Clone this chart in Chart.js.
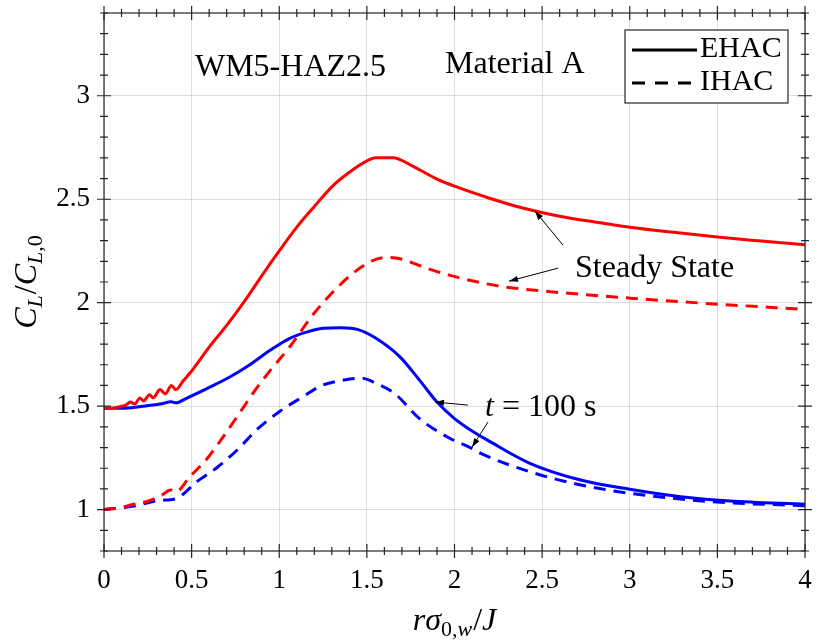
<!DOCTYPE html>
<html>
<head>
<meta charset="utf-8">
<script src="https://cdn.jsdelivr.net/npm/chart.js@4"></script>
<style>
  html, body { margin: 0; padding: 0; background: #fff; }
</style>
</head>
<body>
<canvas id="chart" width="816" height="644"></canvas>
<script>
// EHAC, steady state (red solid)
const xEhacSteady = [0, 0.05, 0.10, 0.125, 0.15, 0.175, 0.205, 0.225, 0.26, 0.28, 0.32, 0.35, 0.385, 0.41, 0.45, 0.5, 0.6, 0.7, 0.8, 0.9, 1.0, 1.1, 1.2, 1.3, 1.4, 1.5, 1.55, 1.65, 1.75, 1.9, 2.0, 2.2, 2.4, 2.6, 2.8, 3.0, 3.25, 3.5, 3.75, 4.0];
const yEhacSteady = [1.49, 1.49, 1.50, 1.505, 1.52, 1.51, 1.54, 1.525, 1.555, 1.54, 1.58, 1.56, 1.60, 1.58, 1.62, 1.67, 1.785, 1.89, 2.005, 2.13, 2.25, 2.365, 2.465, 2.56, 2.63, 2.685, 2.70, 2.70, 2.665, 2.597, 2.563, 2.505, 2.455, 2.418, 2.39, 2.365, 2.34, 2.317, 2.298, 2.28];

// IHAC, steady state (red dashed)
const xIhacSteady = [0, 0.1, 0.15, 0.26, 0.33, 0.38, 0.41, 0.49, 0.59, 0.68, 0.76, 0.87, 0.95, 1.06, 1.2, 1.29, 1.42, 1.54, 1.63, 1.7, 1.82, 1.97, 2.16, 2.3, 2.55, 3.0, 3.5, 4.0];
const yIhacSteady = [1.0, 1.01, 1.022, 1.043, 1.07, 1.095, 1.086, 1.159, 1.248, 1.352, 1.45, 1.586, 1.674, 1.787, 1.95, 2.037, 2.142, 2.206, 2.219, 2.21, 2.173, 2.133, 2.095, 2.075, 2.053, 2.022, 1.993, 1.968];

// EHAC, t = 100 s (blue solid)
const xEhac100 = [0, 0.1, 0.2, 0.32, 0.385, 0.41, 0.47, 0.59, 0.72, 0.83, 0.95, 1.06, 1.16, 1.25, 1.35, 1.45, 1.55, 1.69, 1.8, 1.9, 2.0, 2.1, 2.2, 2.43, 2.72, 3.0, 3.29, 3.57, 4.0];
const yEhac100 = [1.49, 1.49, 1.497, 1.51, 1.521, 1.516, 1.538, 1.586, 1.642, 1.699, 1.771, 1.828, 1.859, 1.876, 1.879, 1.87, 1.829, 1.737, 1.626, 1.52, 1.44, 1.38, 1.33, 1.224, 1.143, 1.098, 1.062, 1.042, 1.026];

// IHAC, t = 100 s (blue dashed)
const xIhac100 = [0, 0.17, 0.3, 0.35, 0.415, 0.53, 0.64, 0.76, 0.87, 1.0, 1.12, 1.25, 1.37, 1.47, 1.56, 1.66, 1.8, 1.97, 2.09, 2.15, 2.43, 2.72, 3.0, 3.29, 3.57, 4.0];
const yIhac100 = [1.0, 1.017, 1.043, 1.046, 1.054, 1.135, 1.2, 1.288, 1.385, 1.473, 1.538, 1.602, 1.626, 1.635, 1.607, 1.56, 1.44, 1.346, 1.30, 1.272, 1.183, 1.119, 1.079, 1.051, 1.033, 1.019];

const xTicks = [0, 0.5, 1, 1.5, 2, 2.5, 3, 3.5, 4];
const yTicks = [1, 1.5, 2, 2.5, 3];
const legendLabels = ["EHAC", "IHAC"];

const FONT = "'Liberation Serif', 'Times New Roman', serif";
const RED = "#ff0000", BLUE = "#0000ff";
const DASH = [12, 8];

function pts(xs, ys) {
    return xs.map((x, i) => ({x: x, y: ys[i]}));
}

function lineSet(xs, ys, color, dashed) {
    return {
        data: pts(xs, ys),
        borderColor: color,
        borderWidth: 3,
        borderDash: dashed ? DASH : [],
        pointRadius: 0,
        fill: false,
        cubicInterpolationMode: "monotone"
    };
}

// draw a row of text pieces (for italic / subscript math)
function drawRuns(ctx, runs, x, y, align) {
    let total = 0;
    runs.forEach(r => {
        ctx.font = (r.it ? "italic " : "") + r.size + "px " + FONT;
        r.w = ctx.measureText(r.t).width;
        total += r.w + (r.gap || 0);
    });
    let cx = align === "center" ? x - total / 2 : x;
    ctx.textBaseline = "alphabetic";
    ctx.textAlign = "left";
    runs.forEach(r => {
        ctx.font = (r.it ? "italic " : "") + r.size + "px " + FONT;
        ctx.fillText(r.t, cx, y + (r.dy || 0));
        cx += r.w + (r.gap || 0);
    });
}

function arrow(ctx, x1, y1, x2, y2) {
    ctx.beginPath();
    ctx.moveTo(x1, y1);
    ctx.lineTo(x2, y2);
    ctx.stroke();
    const a = Math.atan2(y2 - y1, x2 - x1);
    const len = 9, hw = 3;
    ctx.beginPath();
    ctx.moveTo(x2, y2);
    ctx.lineTo(x2 - len * Math.cos(a) + hw * Math.sin(a), y2 - len * Math.sin(a) - hw * Math.cos(a));
    ctx.lineTo(x2 - len * Math.cos(a) - hw * Math.sin(a), y2 - len * Math.sin(a) + hw * Math.cos(a));
    ctx.closePath();
    ctx.fill();
}

const decorPlugin = {
    id: "decor",
    afterDraw(chart) {
        const ctx = chart.ctx;
        const xs = chart.scales.x, ys = chart.scales.y;
        const a = chart.chartArea;
        const px = v => xs.getPixelForValue(v);
        const py = v => ys.getPixelForValue(v);
        ctx.save();

        // axes box with ticks crossing the edges
        ctx.strokeStyle = "#262626";
        ctx.lineWidth = 1.2;
        ctx.strokeRect(a.left, a.top, a.right - a.left, a.bottom - a.top);
        ctx.beginPath();
        for (let i = 0; i <= 40; i++) {
            const v = i / 10, p = px(v);
            const L = (i % 5 === 0) ? 7 : 4;
            ctx.moveTo(p, a.bottom - L); ctx.lineTo(p, a.bottom + L);
            ctx.moveTo(p, a.top - L); ctx.lineTo(p, a.top + L);
        }
        for (let i = 8; i <= 34; i++) {
            const v = i / 10, p = py(v);
            const L = (i % 5 === 0) ? 7 : 4;
            ctx.moveTo(a.left - L, p); ctx.lineTo(a.left + L, p);
            ctx.moveTo(a.right - L, p); ctx.lineTo(a.right + L, p);
        }
        ctx.stroke();

        ctx.fillStyle = "#000";
        ctx.strokeStyle = "#000";

        // axis titles
        drawRuns(ctx, [
            {t: "r", it: true, size: 32},
            {t: "σ", it: true, size: 32},
            {t: "0,", size: 22, dy: 6},
            {t: "w", it: true, size: 22, dy: 6, gap: 1},
            {t: "/", size: 32},
            {t: "J", it: true, size: 32}
        ], (a.left + a.right) / 2, 630, "center");

        ctx.save();
        ctx.translate(36, (a.top + a.bottom) / 2);
        ctx.rotate(-Math.PI / 2);
        drawRuns(ctx, [
            {t: "C", it: true, size: 32},
            {t: "L", it: true, size: 22, dy: 6, gap: 1},
            {t: "/", size: 32},
            {t: "C", it: true, size: 32},
            {t: "L", it: true, size: 22, dy: 6},
            {t: ",0", size: 22, dy: 6}
        ], 0, 0, "center");
        ctx.restore();

        // annotations
        ctx.textBaseline = "middle";
        ctx.textAlign = "left";
        ctx.font = "32px " + FONT;
        ctx.fillText("WM5-HAZ2.5", px(0.519), py(3.138));
        ctx.fillText("Material A", px(1.946), py(3.153));
        ctx.fillText("Steady State", px(2.688), py(2.167));
        drawRuns(ctx, [
            {t: "t", it: true, size: 32},
            {t: " = 100 s", size: 32}
        ], px(2.174), py(1.505) + 11, "left");

        ctx.lineWidth = 1;
        arrow(ctx, px(2.619), py(2.278), px(2.459), py(2.443));
        arrow(ctx, px(2.591), py(2.167), px(2.311), py(2.104));
        arrow(ctx, px(2.077), py(1.505), px(1.889), py(1.520));
        arrow(ctx, px(2.191), py(1.423), px(2.100), py(1.302));

        // legend
        const lx = a.right - 180, ly = a.top + 17, lw = 163, lh = 73;
        ctx.fillStyle = "#fff";
        ctx.fillRect(lx, ly, lw, lh);
        ctx.strokeStyle = "#262626";
        ctx.lineWidth = 1.2;
        ctx.strokeRect(lx, ly, lw, lh);
        ctx.strokeStyle = "#000";
        ctx.lineWidth = 3;
        ctx.beginPath();
        ctx.moveTo(lx + 7, ly + 20); ctx.lineTo(lx + 72, ly + 20);
        ctx.stroke();
        ctx.setLineDash([13, 10]);
        ctx.beginPath();
        ctx.moveTo(lx + 7, ly + 53); ctx.lineTo(lx + 72, ly + 53);
        ctx.stroke();
        ctx.setLineDash([]);
        ctx.fillStyle = "#000";
        ctx.font = "30px " + FONT;
        ctx.textBaseline = "middle";
        ctx.fillText(legendLabels[0], lx + 75, ly + 19);
        ctx.fillText(legendLabels[1], lx + 75, ly + 52);

        ctx.restore();
    }
};

new Chart(document.getElementById("chart"), {
    type: "line",
    data: {
        datasets: [
            lineSet(xEhacSteady, yEhacSteady, RED, false),
            lineSet(xIhacSteady, yIhacSteady, RED, true),
            lineSet(xEhac100, yEhac100, BLUE, false),
            lineSet(xIhac100, yIhac100, BLUE, true)
        ]
    },
    options: {
        responsive: false,
        animation: false,
        layout: {padding: {top: 13, right: 11, left: 0, bottom: 0}},
        plugins: {legend: {display: false}, tooltip: {enabled: false}},
        scales: {
            x: {
                type: "linear",
                min: 0, max: 4,
                afterBuildTicks: s => { s.ticks = xTicks.map(v => ({value: v})); },
                afterFit: s => { s.height = 93; s.paddingLeft = 0; s.paddingRight = 0; },
                ticks: {
                    padding: 14,
                    color: "#000",
                    font: {family: FONT, size: 27},
                    maxRotation: 0,
                    callback: v => String(v)
                },
                grid: {color: "rgba(0,0,0,0.13)", lineWidth: 1, drawTicks: false},
                border: {display: false}
            },
            y: {
                type: "linear",
                min: 0.8, max: 3.4,
                afterBuildTicks: s => { s.ticks = yTicks.map(v => ({value: v})); },
                afterFit: s => { s.width = 104; s.paddingTop = 0; s.paddingBottom = 0; },
                ticks: {
                    padding: 14,
                    color: "#000",
                    font: {family: FONT, size: 27},
                    callback: v => String(v)
                },
                grid: {color: "rgba(0,0,0,0.13)", lineWidth: 1, drawTicks: false},
                border: {display: false}
            }
        }
    },
    plugins: [decorPlugin]
});
</script>
</body>
</html>
